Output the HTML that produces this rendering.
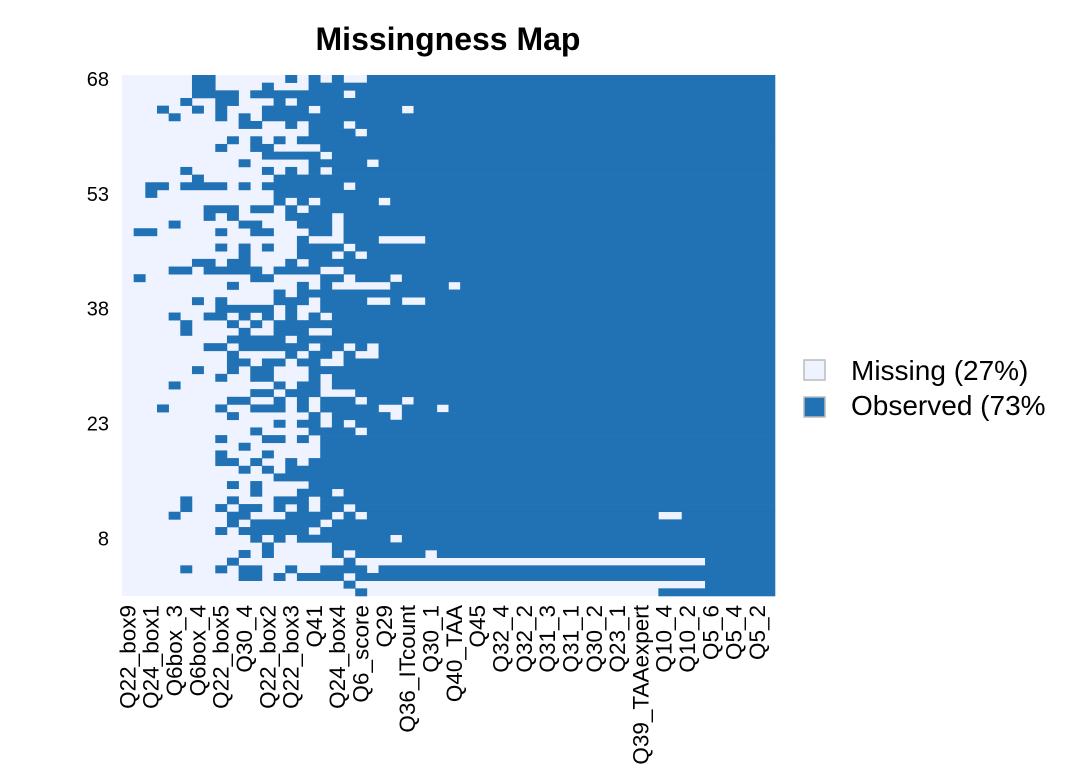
<!DOCTYPE html>
<html><head><meta charset="utf-8"><style>
html,body{margin:0;padding:0;background:#fff;}
svg{display:block;font-family:"Liberation Sans",Arial,sans-serif;}
</style></head><body>
<svg id="chart" width="1090" height="783" viewBox="0 0 1090 783">
<text x="448" y="50" text-anchor="middle" font-size="32" font-weight="bold">Missingness Map</text>
<g id="cells"></g>
<g id="ylab"></g>
<g id="xlab"></g>
<g>
<rect x="804" y="360" width="21" height="20" fill="#EFF3FF" stroke="#bbb" stroke-width="1.5"/>
<text x="851" y="380" font-size="28">Missing (27%)</text>
<rect x="804" y="397" width="21" height="20" fill="#2171B5" stroke="#bbb" stroke-width="1.5"/>
<text x="851" y="415" font-size="28">Observed (73%</text>
</g>
</svg>
<script>
const columnLabels = ["Q22_box9","Q24_box1","Q6box_3","Q6box_4","Q22_box5","Q30_4","Q22_box2","Q22_box3","Q41","Q24_box4","Q6_score","Q29","Q36_ITcount","Q30_1","Q40_TAA","Q45","Q32_4","Q32_2","Q31_3","Q31_1","Q30_2","Q23_1","Q39_TAAexpert","Q10_4","Q10_2","Q5_6","Q5_4","Q5_2"];
const yTickValues = [8,23,38,53,68];
const nCols = 56;
const nRows = 68;
// observed column ranges per row, top (row 68) to bottom (row 1)
const observedRanges = [
"6-7,14,16,18,21-55","6-7,12,16-55","6-9,11-18,20-55","5,8-9,13,15-55","3,6,8,12-15,17-23,25-55",
"4,8,10,12-55","10-11,14,16-18,20-55","16-19,21-55","9,11,13,15-55","8,11-12,17-55",
"12-16,18-55","10,16-20,22-55","5,12,14,16,18-55","6,13-55","2-3,5-8,10,12-18,20-55",
"2,13-55","13,15,17-21,23-55","7-9,11-12,14,16-55","7,9,14-17,19-55","4,10-11,15-17,19-55",
"1-2,8,11-12,16-17,19-55","15,19-21,26-55","8,10,12,15-18,20-55","10,15-17,19,21-55","6-7,9-10,14,16-55",
"4-5,7-11,13-16,19-55","1,11-12,17-18,20-22,24-55","9,15,17,23-27,29-55","13,15-55","6,8,13-15,17-20,23,26-55",
"8-12,14,17-55","4,7-8,10,12,14,16,18-55","5,9,11,13-55","5,10,13-15,18-55","9-13,15-55",
"7-8,10-15,17-18,20,22-55","9,14,16-17,19,22-55","9-10,12-13,15-16,19-55","6,9,11-12,16-55","8,11-12,16,18-55",
"4,13,15-16,18-55","11-12,14-16,20-55","9-10,13,15,17-19,21-23,25-55","3,8,11-13,15,17-21,24-26,28-55","9,16,18-22,24-55",
"13,15-16,18,20-55","11,16-19,21-55","8,12-13,15,17-55","10,17-55","8,12,17-55",
"8-9,11,14,16-55","10,12,14-55","13-55","9,11,16-55","11,15-17,19-55",
"5,9,13-15,17-55","5,8,10-11,13,15,17-18,20-55","4,9-10,14-17,19,21-45,48-55","9,11-16,18-55","8,10-15,17-55",
"11,13,15-22,24-55","12,18-55","10,12,18,20-25,27-55","9,19,50-55","5,8,10-11,14,17-20,22-55",
"10-11,13,15-18,20-55","19,50-55","20,46-55"
];
const NS = "http://www.w3.org/2000/svg";
const X0 = 122, X1 = 775, Y0 = 75, Y1 = 596;
const cw = (X1 - X0) / nCols, rh = (Y1 - Y0) / nRows;
function xPos(c){ return X0 + c * cw; }
function yPos(r){ return Y0 + r * rh; }
function yOfValue(v){ return yPos(nRows - v + 0.5); }
const cells = document.getElementById('cells');
const bg = document.createElementNS(NS,'rect');
bg.setAttribute('x',X0);bg.setAttribute('y',Y0);bg.setAttribute('width',X1-X0);bg.setAttribute('height',Y1-Y0);bg.setAttribute('fill','#EFF3FF');


cells.appendChild(bg);
observedRanges.forEach((spec, r) => {
  spec.split(',').forEach(part => {
    const [a, b] = part.split('-').map(Number);
    const e = (b === undefined) ? a : b;
    const rect = document.createElementNS(NS,'rect');
    rect.setAttribute('x', xPos(a));
    rect.setAttribute('y', yPos(r));
    rect.setAttribute('width', xPos(e + 1) - xPos(a) + 0.3);
    rect.setAttribute('height', rh + 0.3);
    rect.setAttribute('fill', '#2171B5');
    
    
    cells.appendChild(rect);
  });
});
const ylab = document.getElementById('ylab');
yTickValues.forEach(v => {
  const t = document.createElementNS(NS,'text');
  t.setAttribute('x', 109); t.setAttribute('y', yOfValue(v) + 7);
  t.setAttribute('text-anchor','end'); t.setAttribute('font-size','20');
  t.textContent = v;
  
  
  ylab.appendChild(t);
});
const xlab = document.getElementById('xlab');
columnLabels.forEach((lab, i) => {
  const cx = xPos(2 * i + 0.5) + 7.5;
  const t = document.createElementNS(NS,'text');
  t.setAttribute('transform', `translate(${cx},605) rotate(-90)`);
  t.setAttribute('text-anchor','end'); t.setAttribute('font-size','22.5');
  t.textContent = lab;
  
  
  xlab.appendChild(t);
});
</script>
</body></html>
